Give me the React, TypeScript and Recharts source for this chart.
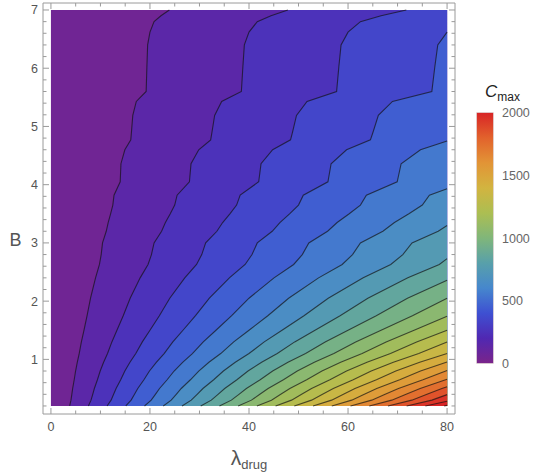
import React from "react";
import { ComposedChart, Area, Line, XAxis, YAxis } from "recharts";

// ---- axis ticks / labels ----
const LAMBDA_TICKS = [0, 5, 10, 15, 20, 25, 30, 35, 40, 45, 50, 55, 60, 65, 70, 75, 80];
const LAMBDA_LABELS = [0, 20, 40, 60, 80];
const B_TICKS = [0.2, 0.4, 0.6, 0.8, 1, 1.2, 1.4, 1.6, 1.8, 2, 2.2, 2.4, 2.6, 2.8, 3, 3.2, 3.4, 3.6, 3.8, 4, 4.2, 4.4, 4.6, 4.8, 5, 5.2, 5.4, 5.6, 5.8, 6, 6.2, 6.4, 6.6, 6.8, 7];
const B_LABELS = [1, 2, 3, 4, 5, 6, 7];
const LEGEND_TICKS = [0, 500, 1000, 1500, 2000];
const LEGEND_MAX = 2000;

// ---- contour levels of C_max ----
const LEVELS = [0, 100, 200, 300, 400, 500, 600, 700, 800, 900, 1000, 1100, 1200, 1300, 1400, 1500, 1600, 1700, 1800, 1900, 2000, 2100];

// region of the plotted data: lambda 0..80, B 0.2..7
const c0: number[][] = [[0, 7], [80, 7]];
const c100: number[][] = [[3.78, 0.2], [4.05, 0.3], [4.22, 0.4], [4.39, 0.5], [4.7, 0.65], [4.98, 0.8], [5.32, 0.95], [5.71, 1.1], [6.15, 1.3], [6.67, 1.5], [7.3, 1.75], [8.0, 2.05], [9.01, 2.4], [9.8, 2.63], [10.15, 2.8], [10.42, 3.0], [11.17, 3.2], [11.56, 3.35], [12.05, 3.5], [12.5, 3.65], [12.74, 3.82], [13.99, 4.05], [14.14, 4.36], [14.93, 4.6], [16.13, 4.77], [16.26, 4.9], [16.53, 5.19], [17.24, 5.43], [19.23, 5.6], [19.38, 6.02], [19.53, 6.4], [20.0, 6.62], [20.83, 6.8], [22.22, 6.9], [23.92, 7.0]];
const c200: number[][] = [[7.56, 0.2], [8.1, 0.3], [8.44, 0.4], [8.77, 0.5], [9.39, 0.65], [9.95, 0.8], [10.64, 0.95], [11.43, 1.1], [12.31, 1.3], [13.33, 1.5], [14.6, 1.75], [16.0, 2.05], [18.02, 2.4], [19.61, 2.63], [20.3, 2.8], [20.83, 3.0], [22.35, 3.2], [23.12, 3.35], [24.1, 3.5], [25.0, 3.65], [25.48, 3.82], [27.97, 4.05], [28.29, 4.36], [29.85, 4.6], [32.26, 4.77], [32.52, 4.9], [33.06, 5.19], [34.48, 5.43], [38.46, 5.6], [38.76, 6.02], [39.06, 6.4], [40.0, 6.62], [41.67, 6.8], [44.44, 6.9], [47.85, 7.0]];
const c300: number[][] = [[11.34, 0.2], [12.15, 0.3], [12.66, 0.4], [13.16, 0.5], [14.09, 0.65], [14.93, 0.8], [15.96, 0.95], [17.14, 1.1], [18.46, 1.3], [20.0, 1.5], [21.9, 1.75], [24.0, 2.05], [27.03, 2.4], [29.41, 2.63], [30.46, 2.8], [31.25, 3.0], [33.52, 3.2], [34.68, 3.35], [36.14, 3.5], [37.5, 3.65], [38.22, 3.82], [41.96, 4.05], [42.43, 4.36], [44.78, 4.6], [48.39, 4.77], [48.78, 4.9], [49.59, 5.19], [51.72, 5.43], [57.69, 5.6], [58.14, 6.02], [58.59, 6.4], [60.0, 6.62], [62.5, 6.8], [66.67, 6.9], [71.77, 7.0]];
const c400: number[][] = [[15.12, 0.2], [16.2, 0.3], [16.88, 0.4], [17.54, 0.5], [18.78, 0.65], [19.9, 0.8], [21.28, 0.95], [22.86, 1.1], [24.62, 1.3], [26.67, 1.5], [29.2, 1.75], [32.0, 2.05], [36.04, 2.4], [39.22, 2.63], [40.61, 2.8], [41.67, 3.0], [44.69, 3.2], [46.24, 3.35], [48.19, 3.5], [50.0, 3.65], [50.96, 3.82], [55.94, 4.05], [56.58, 4.36], [59.7, 4.6], [64.52, 4.77], [65.04, 4.9], [66.12, 5.19], [68.97, 5.43], [76.92, 5.6], [77.52, 6.02], [78.12, 6.4], [80, 6.62]];
const c500: number[][] = [[18.9, 0.2], [20.25, 0.3], [21.1, 0.4], [21.93, 0.5], [23.47, 0.65], [24.88, 0.8], [26.6, 0.95], [28.57, 1.1], [30.77, 1.3], [33.33, 1.5], [36.5, 1.75], [40.0, 2.05], [45.05, 2.4], [49.02, 2.63], [50.76, 2.8], [52.08, 3.0], [55.87, 3.2], [57.8, 3.35], [60.24, 3.5], [62.5, 3.65], [63.7, 3.82], [69.93, 4.05], [70.72, 4.36], [74.63, 4.6], [80, 4.75]];
const c600: number[][] = [[22.69, 0.2], [24.29, 0.3], [25.31, 0.4], [26.32, 0.5], [28.17, 0.65], [29.85, 0.8], [31.91, 0.95], [34.29, 1.1], [36.92, 1.3], [40.0, 1.5], [43.8, 1.75], [48.0, 2.05], [54.05, 2.4], [58.82, 2.63], [60.91, 2.8], [62.5, 3.0], [67.04, 3.2], [69.37, 3.35], [72.29, 3.5], [75.0, 3.65], [76.43, 3.82], [80, 3.93]];
const c700: number[][] = [[26.47, 0.2], [28.34, 0.3], [29.53, 0.4], [30.7, 0.5], [32.87, 0.65], [34.83, 0.8], [37.23, 0.95], [40.0, 1.1], [43.08, 1.3], [46.67, 1.5], [51.1, 1.75], [56.0, 2.05], [63.06, 2.4], [68.63, 2.63], [71.06, 2.8], [72.92, 3.0], [78.21, 3.2], [80, 3.3]];
const c800: number[][] = [[30.25, 0.2], [32.39, 0.3], [33.75, 0.4], [35.09, 0.5], [37.56, 0.65], [39.8, 0.8], [42.55, 0.95], [45.71, 1.1], [49.23, 1.3], [53.33, 1.5], [58.4, 1.75], [64.0, 2.05], [72.07, 2.4], [78.43, 2.63], [80, 2.73]];
const c900: number[][] = [[34.03, 0.2], [36.44, 0.3], [37.97, 0.4], [39.47, 0.5], [42.26, 0.65], [44.78, 0.8], [47.87, 0.95], [51.43, 1.1], [55.38, 1.3], [60.0, 1.5], [65.7, 1.75], [72.0, 2.05], [80, 2.36]];
const c1000: number[][] = [[37.81, 0.2], [40.49, 0.3], [42.19, 0.4], [43.86, 0.5], [46.95, 0.65], [49.75, 0.8], [53.19, 0.95], [57.14, 1.1], [61.54, 1.3], [66.67, 1.5], [73.0, 1.75], [80, 2.05]];
const c1100: number[][] = [[41.59, 0.2], [44.54, 0.3], [46.41, 0.4], [48.25, 0.5], [51.65, 0.65], [54.73, 0.8], [58.51, 0.95], [62.85, 1.1], [67.69, 1.3], [73.34, 1.5], [80, 1.74]];
const c1200: number[][] = [[45.37, 0.2], [48.59, 0.3], [50.63, 0.4], [52.63, 0.5], [56.34, 0.65], [59.7, 0.8], [63.83, 0.95], [68.57, 1.1], [73.85, 1.3], [80, 1.5]];
const c1300: number[][] = [[49.15, 0.2], [52.64, 0.3], [54.85, 0.4], [57.02, 0.5], [61.04, 0.65], [64.68, 0.8], [69.15, 0.95], [74.28, 1.1], [80, 1.3]];
const c1400: number[][] = [[52.93, 0.2], [56.69, 0.3], [59.07, 0.4], [61.4, 0.5], [65.73, 0.65], [69.65, 0.8], [74.47, 0.95], [80, 1.1]];
const c1500: number[][] = [[56.72, 0.2], [60.74, 0.3], [63.29, 0.4], [65.79, 0.5], [70.43, 0.65], [74.63, 0.8], [80, 0.955]];
const c1600: number[][] = [[60.5, 0.2], [64.78, 0.3], [67.5, 0.4], [70.18, 0.5], [75.12, 0.65], [80, 0.81]];
const c1700: number[][] = [[64.28, 0.2], [68.83, 0.3], [71.72, 0.4], [74.56, 0.5], [80, 0.66]];
const c1800: number[][] = [[68.06, 0.2], [72.88, 0.3], [75.94, 0.4], [78.95, 0.5], [80, 0.53]];
const c1900: number[][] = [[71.84, 0.2], [76.93, 0.3], [80, 0.395]];
const c2000: number[][] = [[75.62, 0.2], [80, 0.28]];
const c2100: number[][] = [[79.4, 0.2], [80, 0.21]];

const CONTOURS = [c0, c100, c200, c300, c400, c500, c600, c700, c800, c900, c1000, c1100, c1200, c1300, c1400, c1500, c1600, c1700, c1800, c1900, c2000, c2100];

// ---- styling ----
const RAINBOW = [
  [122, 36, 138],
  [80, 40, 178],
  [62, 80, 210],
  [70, 135, 205],
  [88, 160, 170],
  [128, 182, 122],
  [172, 190, 82],
  [210, 180, 64],
  [226, 148, 54],
  [226, 98, 44],
  [216, 36, 38],
];
const rgb = (c: number[]) => `rgb(${Math.round(c[0])},${Math.round(c[1])},${Math.round(c[2])})`;
function rainbow(t: number) {
  const tt = Math.max(0, Math.min(1, t));
  const s = tt * (RAINBOW.length - 1);
  const i = Math.min(RAINBOW.length - 2, Math.floor(s));
  const f = s - i;
  const a = RAINBOW[i];
  const b = RAINBOW[i + 1];
  return rgb([a[0] + (b[0] - a[0]) * f, a[1] + (b[1] - a[1]) * f, a[2] + (b[2] - a[2]) * f]);
}

const FRAME = "#9a9a9a";
const TICK_TEXT = "#555";
const FONT = "'Liberation Sans', Arial, sans-serif";
const X_DOMAIN = [-1.6, 81.6];
const Y_DOMAIN = [0.062, 7.12];

const isMajorX = (v: number) => LAMBDA_LABELS.includes(v);
const isMajorY = (v: number) => B_LABELS.some((b) => Math.abs(b - v) < 1e-6);

const XBottomTick = (p: any) => {
  const v = p.payload.value;
  const major = isMajorX(v);
  return (
    <g>
      <line x1={p.x} x2={p.x} y1={p.y} y2={p.y - (major ? 6 : 3.5)} stroke={FRAME} />
      {major && (
        <text x={p.x} y={p.y + 17} textAnchor="middle" fontSize={12.5} fill={TICK_TEXT} fontFamily={FONT}>
          {v}
        </text>
      )}
    </g>
  );
};
const XTopTick = (p: any) => {
  const major = isMajorX(p.payload.value);
  return <line x1={p.x} x2={p.x} y1={p.y} y2={p.y + (major ? 6 : 3.5)} stroke={FRAME} />;
};
const YLeftTick = (p: any) => {
  const v = p.payload.value;
  const major = isMajorY(v);
  return (
    <g>
      <line x1={p.x} x2={p.x + (major ? 6 : 3.5)} y1={p.y} y2={p.y} stroke={FRAME} />
      {major && (
        <text x={p.x - 5} y={p.y + 4.5} textAnchor="end" fontSize={12.5} fill={TICK_TEXT} fontFamily={FONT}>
          {Math.round(v)}
        </text>
      )}
    </g>
  );
};
const YRightTick = (p: any) => {
  const major = isMajorY(p.payload.value);
  return <line x1={p.x} x2={p.x - (major ? 6 : 3.5)} y1={p.y} y2={p.y} stroke={FRAME} />;
};

const toPts = (pairs: number[][]) => pairs.map(([x, y]) => ({ x, y }));

export default function App() {
  const bar = { x: 476.7, y: 112.7, w: 16.6, h: 250.6 };
  return (
    <div style={{ position: "relative", width: 538, height: 473 }}>
      <style>{`body{margin:0}`}</style>
      <ComposedChart width={538} height={473} margin={{ top: 0, right: 0, bottom: 0, left: 0 }}>
        <XAxis
          xAxisId={0}
          dataKey="x"
          type="number"
          domain={X_DOMAIN}
          allowDataOverflow
          ticks={LAMBDA_TICKS}
          interval={0}
          height={59}
          tickSize={0}
          tickMargin={0}
          tickLine={false}
          axisLine={{ stroke: FRAME }}
          tick={(p: any) => <XBottomTick {...p} />}
        />
        <XAxis
          xAxisId="top"
          orientation="top"
          dataKey="x"
          type="number"
          domain={X_DOMAIN}
          allowDataOverflow
          ticks={LAMBDA_TICKS}
          interval={0}
          height={3}
          tickSize={0}
          tickMargin={0}
          tickLine={false}
          axisLine={{ stroke: FRAME }}
          tick={(p: any) => <XTopTick {...p} />}
        />
        <YAxis
          yAxisId={0}
          type="number"
          domain={Y_DOMAIN}
          allowDataOverflow
          ticks={B_TICKS}
          interval={0}
          width={43}
          tickSize={0}
          tickMargin={0}
          tickLine={false}
          axisLine={{ stroke: FRAME }}
          tick={(p: any) => <YLeftTick {...p} />}
        />
        <YAxis
          yAxisId="right"
          orientation="right"
          type="number"
          domain={Y_DOMAIN}
          allowDataOverflow
          ticks={B_TICKS}
          interval={0}
          width={83}
          tickSize={0}
          tickMargin={0}
          tickLine={false}
          axisLine={{ stroke: FRAME }}
          tick={(p: any) => <YRightTick {...p} />}
        />
        {CONTOURS.map((pairs, i) => {
          const level = LEVELS[i];
          const pts = toPts(pairs);
          const last = pairs[pairs.length - 1];
          const data = last[0] < 80 ? [...pts, { x: 80, y: 7 }] : pts;
          return (
            <Area
              key={`a${level}`}
              data={data}
              dataKey="y"
              type="linear"
              baseValue={0.2}
              stroke="none"
              fill={rainbow((level + 50) / LEGEND_MAX)}
              fillOpacity={1}
              dot={false}
              activeDot={false}
              isAnimationActive={false}
              legendType="none"
            />
          );
        })}
        {CONTOURS.slice(1).map((pairs, i) => (
          <Line
            key={`l${LEVELS[i + 1]}`}
            data={toPts(pairs)}
            dataKey="y"
            type="linear"
            stroke="#111"
            strokeOpacity={0.68}
            strokeWidth={1.1}
            dot={false}
            activeDot={false}
            isAnimationActive={false}
            legendType="none"
          />
        ))}
      </ComposedChart>
      <svg
        width={538}
        height={473}
        style={{ position: "absolute", left: 0, top: 0, pointerEvents: "none" }}
        fontFamily={FONT}
      >
        <defs>
          <linearGradient id="cbar" x1="0" y1="1" x2="0" y2="0">
            {RAINBOW.map((c, i) => (
              <stop key={i} offset={i / (RAINBOW.length - 1)} stopColor={rgb(c)} />
            ))}
          </linearGradient>
        </defs>
        <text x={15.5} y={246} textAnchor="middle" fontSize={18} fill={TICK_TEXT}>
          B
        </text>
        <text x={249} y={465} textAnchor="middle" fill={TICK_TEXT}>
          <tspan fontSize={21}>λ</tspan>
          <tspan fontSize={13} dy={4}>drug</tspan>
        </text>
        <text x={485} y={97} fill="#222">
          <tspan fontSize={17} fontStyle="italic">C</tspan>
          <tspan fontSize={12} dy={3.5}>max</tspan>
        </text>
        <rect x={bar.x} y={bar.y} width={bar.w} height={bar.h} fill="url(#cbar)" stroke="#d8c8c8" strokeWidth={0.6} />
        {LEGEND_TICKS.map((v) => (
          <text
            key={v}
            x={502}
            y={bar.y + bar.h - (v / LEGEND_MAX) * bar.h + 4.5}
            fontSize={12.5}
            fill="#666"
          >
            {v}
          </text>
        ))}
      </svg>
    </div>
  );
}
